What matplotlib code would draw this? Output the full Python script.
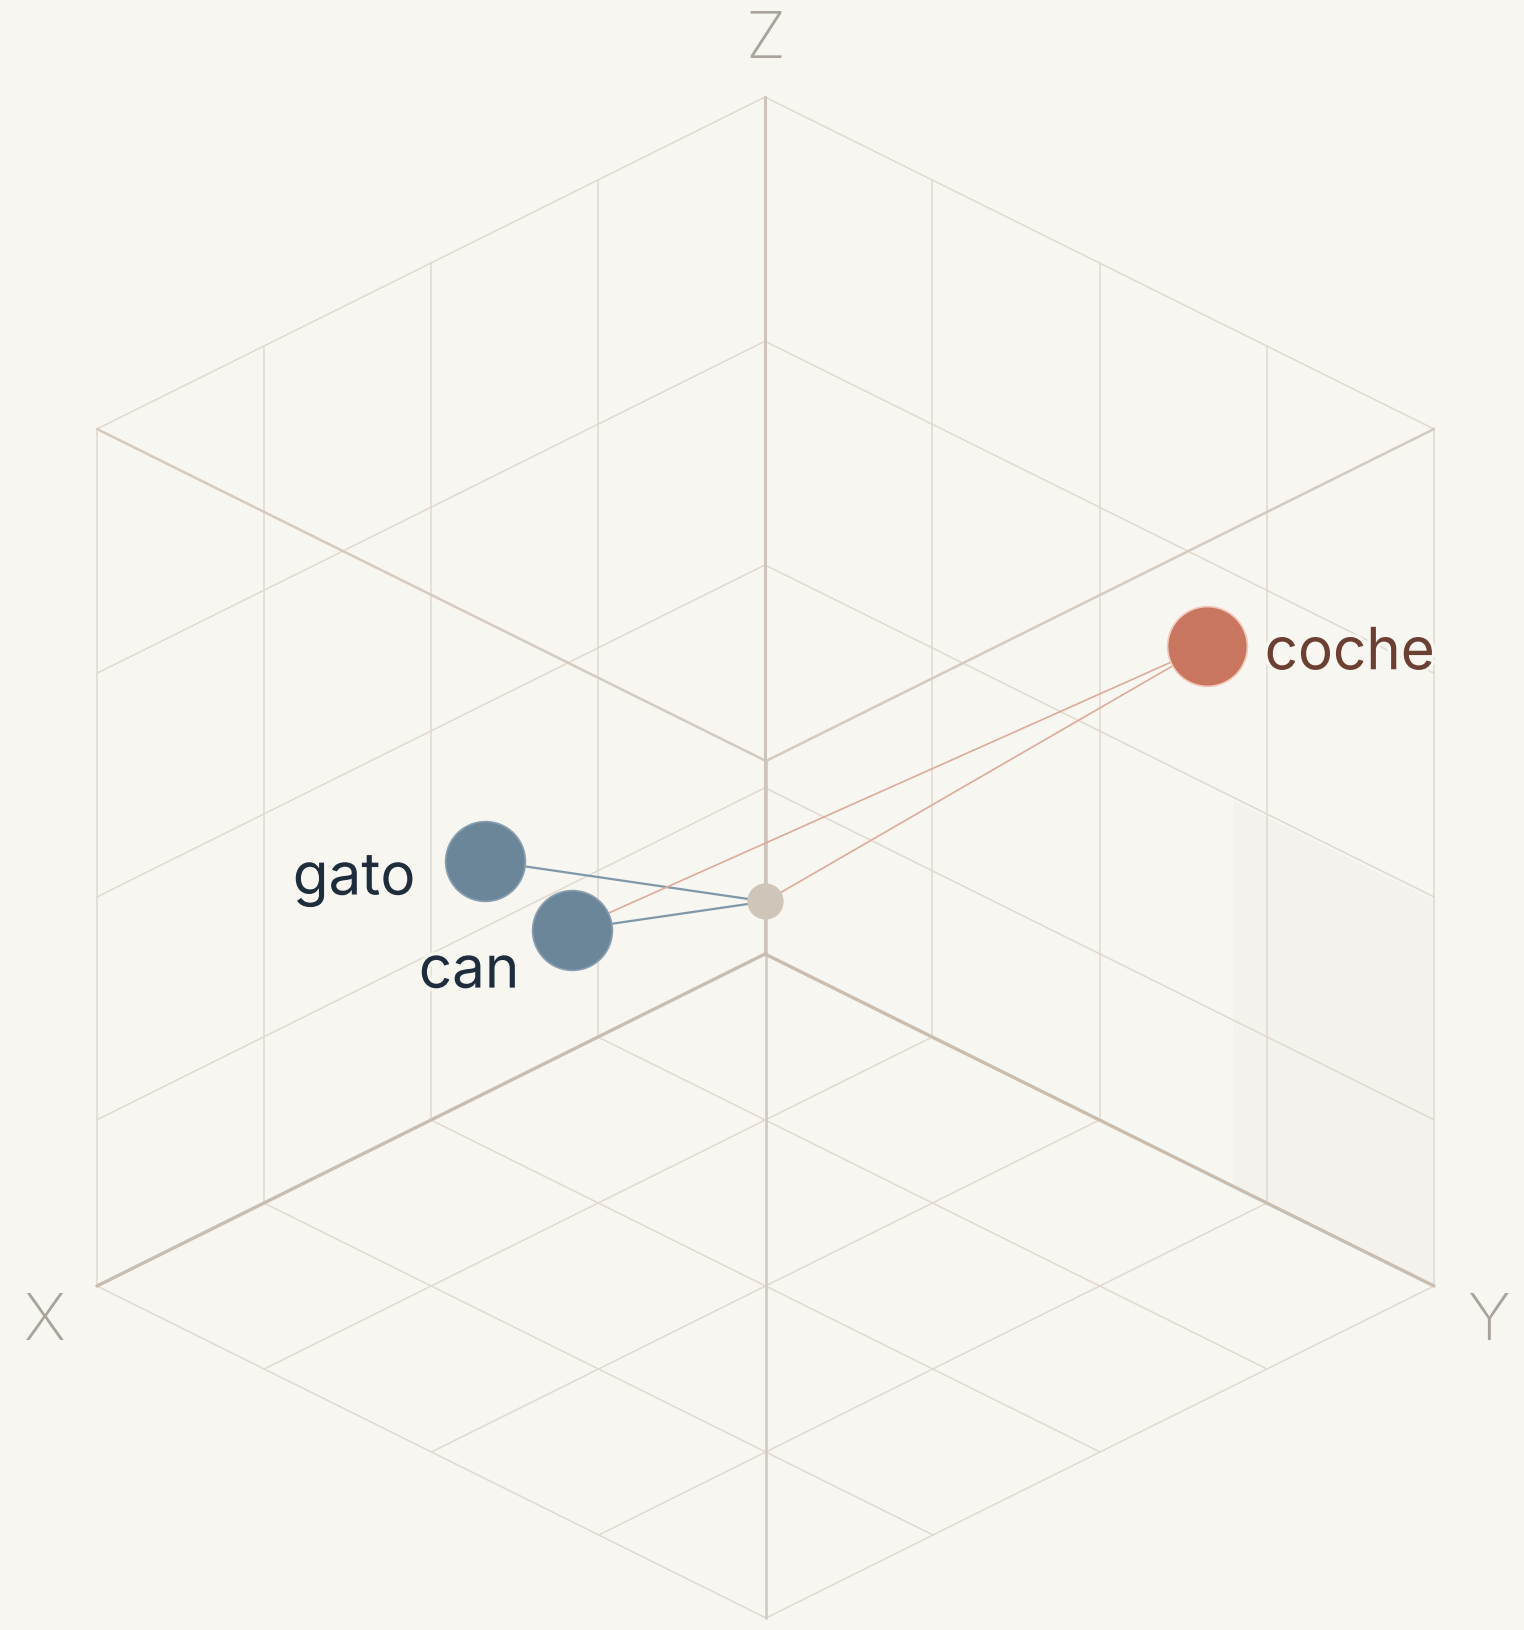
import matplotlib.pyplot as plt
import matplotlib.patheffects as pe
import numpy as np

plt.rcParams['font.family'] = ['Inter', 'DejaVu Sans']

# word vectors (cube units, 0..1 on each axis)
words = ['gato', 'can', 'coche']
vx = [0.65, 0.56, 0.11]
vy = [0.23, 0.27, 0.77]
vz = [0.45, 0.35, 0.70]
word_colors = ['#6b8699', '#6b8699', '#c8765f']
label_colors = ['#1f2c3b', '#1f2c3b', '#6c3f33']
origin = (0.25, 0.25, 0.255)
links = [('gato', 'origin'), ('can', 'origin'), ('coche', 'origin'), ('coche', 'can')]
link_colors = {'gato': '#7f97a8', 'can': '#7f97a8', 'coche': '#dcab9b'}

# grid levels
grid_ab = [0.25, 0.5, 0.75, 1.0]
grid_z = [0.194, 0.454, 0.715, 1.0]
axis_names = ['X', 'Y', 'Z']

# isometric-ish projection to pixel space
O = np.array([765.0, 954.0])
EX = np.array([-668.0, 332.0])
EY = np.array([669.0, 332.0])
EZ = np.array([0.0, -857.0])


def proj(x, y, z):
    return O + x * EX + y * EY + z * EZ


bg = '#f7f6f1'
grid_c = '#e1d9cf'
fig = plt.figure(figsize=(15.24, 16.30), dpi=100)
fig.patch.set_facecolor(bg)
ax = fig.add_axes([0, 0, 1, 1])
ax.set_facecolor(bg)
ax.set_xlim(0, 1524)
ax.set_ylim(1630, 0)
ax.axis('off')


def seg(p, q, **kw):
    a = proj(*p)
    b = proj(*q)
    ax.plot([a[0], b[0]], [a[1], b[1]], solid_capstyle='round', **kw)


# very faint shade on the lower right wall
shade = np.array([proj(0, b, z) for b, z in [(0.7, 0), (1, 0), (1, 0.45), (0.7, 0.45)]])
ax.fill(shade[:, 0], shade[:, 1], color='#f1ebe5', alpha=0.35, lw=0, zorder=0)

# wall y=0 (left), wall x=0 (right), floor z=0
for t in grid_ab:
    seg((t, 0, 0), (t, 0, 1), color=grid_c, lw=1.1, zorder=1)
    seg((0, t, 0), (0, t, 1), color=grid_c, lw=1.1, zorder=1)
    seg((t, 0, 0), (t, 1, 0), color=grid_c, lw=1.1, zorder=1)
    seg((0, t, 0), (1, t, 0), color=grid_c, lw=1.1, zorder=1)
for z in grid_z:
    seg((0, 0, z), (1, 0, z), color=grid_c, lw=1.1, zorder=1)
    seg((0, 0, z), (0, 1, z), color=grid_c, lw=1.1, zorder=1)

# cube edges and axes
seg((1, 0, 1), (1, 1, 1), color='#d5cabe', lw=1.8, zorder=2)
seg((0, 1, 1), (1, 1, 1), color='#d5cabe', lw=1.8, zorder=2)
seg((1, 1, 0), (1, 1, 1), color='#d3ccc4', lw=2.0, zorder=2)
seg((0, 0, 0), (0, 0, 1), color='#cdc5bc', lw=2.2, zorder=2)
seg((0, 0, 0), (1, 0, 0), color='#c9bdb0', lw=2.4, zorder=2)
seg((0, 0, 0), (0, 1, 0), color='#c9bdb0', lw=2.4, zorder=2)

# projected points
pts = {w: proj(x, y, z) for w, x, y, z in zip(words, vx, vy, vz)}
pts['origin'] = proj(*origin)

for a, b in links:
    p, q = pts[a], pts[b]
    lw = 1.6 if a != 'coche' else 1.2
    ax.plot([p[0], q[0]], [p[1], q[1]], color=link_colors[a], lw=lw, zorder=3)

ax.scatter([pts['origin'][0]], [pts['origin'][1]], s=680, color='#cfc5b8', lw=0, zorder=4)
for w, c in zip(words, word_colors):
    edge = '#f2c9bb' if w == 'coche' else '#8aa0b0'
    ax.scatter([pts[w][0]], [pts[w][1]], s=3300, color=c, edgecolors=edge, linewidths=1.2, zorder=5)

# word labels
halo = [pe.withStroke(linewidth=5, foreground=bg)]
offs = {'gato': (-69, 34, 'right'), 'can': (-52, 58, 'right'), 'coche': (58, 23, 'left')}
for w, lc in zip(words, label_colors):
    dx, dy, ha = offs[w]
    ax.text(pts[w][0] + dx, pts[w][1] + dy, w, ha=ha, va='baseline',
            fontsize=42, color=lc, zorder=6, path_effects=halo)

# axis labels
ends = [proj(1, 0, 0), proj(0, 1, 0), proj(0, 0, 1)]
aoffs = [(-52, 54), (54, 54), (0, -39)]
for name, e, (dx, dy) in zip(axis_names, ends, aoffs):
    ax.text(e[0] + dx, e[1] + dy, name, ha='center', va='baseline',
            fontsize=47, color='#aaa39b', fontweight='light', zorder=6)

fig.savefig('out.png', dpi=100, facecolor=bg)
